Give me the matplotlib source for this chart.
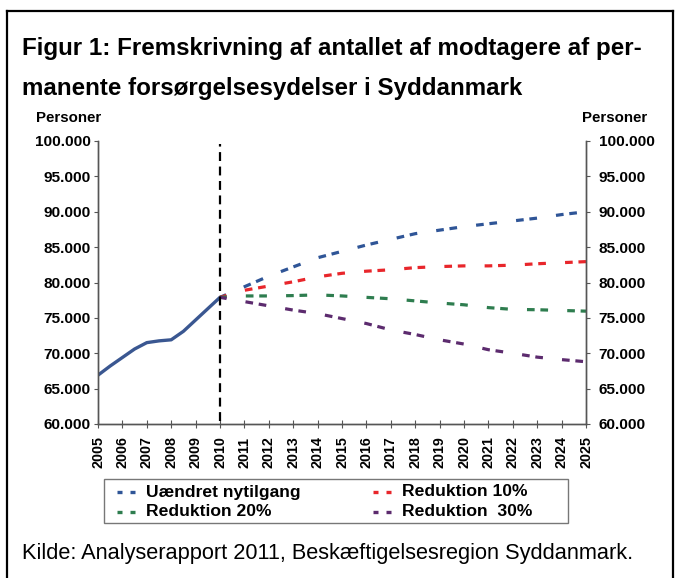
import matplotlib
matplotlib.use("Agg")
import matplotlib.pyplot as plt
from matplotlib.lines import Line2D
from matplotlib.patches import Rectangle
from matplotlib.ticker import FuncFormatter

plt.rcParams['font.family'] = ['Liberation Sans', 'DejaVu Sans']

# ---- data ----
hist_years = [2005, 2005.5, 2006, 2006.5, 2007, 2007.5, 2008, 2008.5, 2009, 2009.5, 2010]
hist_values = [66900, 68200, 69400, 70600, 71500, 71750, 71900, 73100, 74700, 76300, 77900]

fc_years = [2010, 2011, 2012, 2013, 2014, 2015, 2016, 2017, 2018, 2019,
            2020, 2021, 2022, 2023, 2024, 2025]
blue = [77900, 79400, 80900, 82200, 83500, 84400, 85300, 86100, 86900, 87400,
        87900, 88300, 88700, 89100, 89600, 90000]
red = [77900, 78900, 79500, 80100, 80800, 81300, 81600, 81800, 82100, 82250,
       82350, 82350, 82450, 82650, 82800, 82950]
green = [77900, 78100, 78100, 78150, 78250, 78100, 77900, 77700, 77400, 77100,
         76850, 76450, 76200, 76150, 76050, 75950]
purple = [77900, 77300, 76700, 76100, 75600, 74900, 74200, 73300, 72650, 71900,
          71300, 70500, 70000, 69450, 69100, 68800]

series_names = ["Uændret nytilgang", "Reduktion 10%", "Reduktion 20%", "Reduktion  30%"]
series_colors = ["#2f5597", "#e8262b", "#2e7d4f", "#5c2b6e"]
year_labels = [str(y) for y in range(2005, 2026)]
yticks = list(range(60000, 100001, 5000))

fig = plt.figure(figsize=(6.79, 5.78), dpi=100)
W, H = 679, 578

def fx(px):
    return px / W

def fy(py):
    return 1 - py / H

# outer frame
for (x0, y0, x1, y1) in [(7, 11, 7, 578), (7, 11, 673, 11), (673, 11, 673, 578)]:
    fig.add_artist(Line2D([fx(x0), fx(x1)], [fy(y0), fy(y1)], color="black", lw=1.6,
                          transform=fig.transFigure))

fig.text(fx(22), fy(49), "Figur 1: Fremskrivning af antallet af modtagere af per-",
         fontsize=17.4, fontweight="bold", va="center", ha="left")
fig.text(fx(22), fy(88), "manente forsørgelsesydelser i Syddanmark",
         fontsize=17.4, fontweight="bold", va="center", ha="left")
fig.text(fx(36), fy(118), "Personer", fontsize=10.8, fontweight="bold", va="center", ha="left")
fig.text(fx(582), fy(118), "Personer", fontsize=10.8, fontweight="bold", va="center", ha="left")
fig.text(fx(22), fy(553), "Kilde: Analyserapport 2011, Beskæftigelsesregion Syddanmark.",
         fontsize=15.7, va="center", ha="left")

ax = fig.add_axes([fx(98), fy(424), fx(586) - fx(98), fy(141) - fy(424)])
ax.set_xlim(2005, 2025)
ax.set_ylim(60000, 100000)

ax.plot(hist_years, hist_values, color="#3a5791", lw=2.4, solid_capstyle="round")

for vals, col in zip([blue, red, green, purple], series_colors):
    ax.plot(fc_years, vals, color=col, lw=2.3, linestyle=(4.5, (2.4, 1.8, 2.4, 6.0)))

ax.axvline(2010, ymin=0.01, ymax=0.99, color="black", lw=1.6, linestyle=(0, (4, 2.5)))

fmt = FuncFormatter(lambda v, p: f"{int(v):,}".replace(",", "."))
ax.set_yticks(yticks)
ax.yaxis.set_major_formatter(fmt)
ax.set_xticks(range(2005, 2026))
ax.set_xticklabels(year_labels, rotation=90, fontweight="bold", fontsize=10.3)
for lbl in ax.get_yticklabels():
    lbl.set_fontweight("bold")
    lbl.set_fontsize(11.1)
ax.tick_params(axis="y", direction="out", length=3, color="#555555", pad=2)
ax.tick_params(axis="x", direction="inout", length=6, color="#555555", pad=6)

ax2 = ax.twinx()
ax2.set_ylim(60000, 100000)
ax2.set_yticks(yticks)
ax2.yaxis.set_major_formatter(fmt)
for lbl in ax2.get_yticklabels():
    lbl.set_fontweight("bold")
    lbl.set_fontsize(11.1)
ax2.tick_params(axis="y", direction="out", length=3, color="#555555", pad=6)

for a in (ax, ax2):
    a.spines["top"].set_visible(False)
    for s in ("left", "right", "bottom"):
        a.spines[s].set_color("#555555")
        a.spines[s].set_linewidth(1.0)

# legend (manual layout)
fig.add_artist(Rectangle((fx(104), fy(523)), fx(568) - fx(104), fy(479) - fy(523),
                         transform=fig.transFigure, fill=False, edgecolor="#777777", lw=1.0))
leg_pos = [(117, 492), (373, 492), (117, 512), (373, 512)]
for i, (px, py) in enumerate(leg_pos):
    fig.add_artist(Line2D([fx(px), fx(px + 18)], [fy(py), fy(py)], color=series_colors[i],
                          lw=2.4, linestyle=(0, (1.5, 2.4)), transform=fig.transFigure))
    fig.text(fx(px + 29), fy(py), series_names[i], fontsize=12.6, fontweight="bold",
             va="center", ha="left")

fig.savefig("out.png", dpi=100)
